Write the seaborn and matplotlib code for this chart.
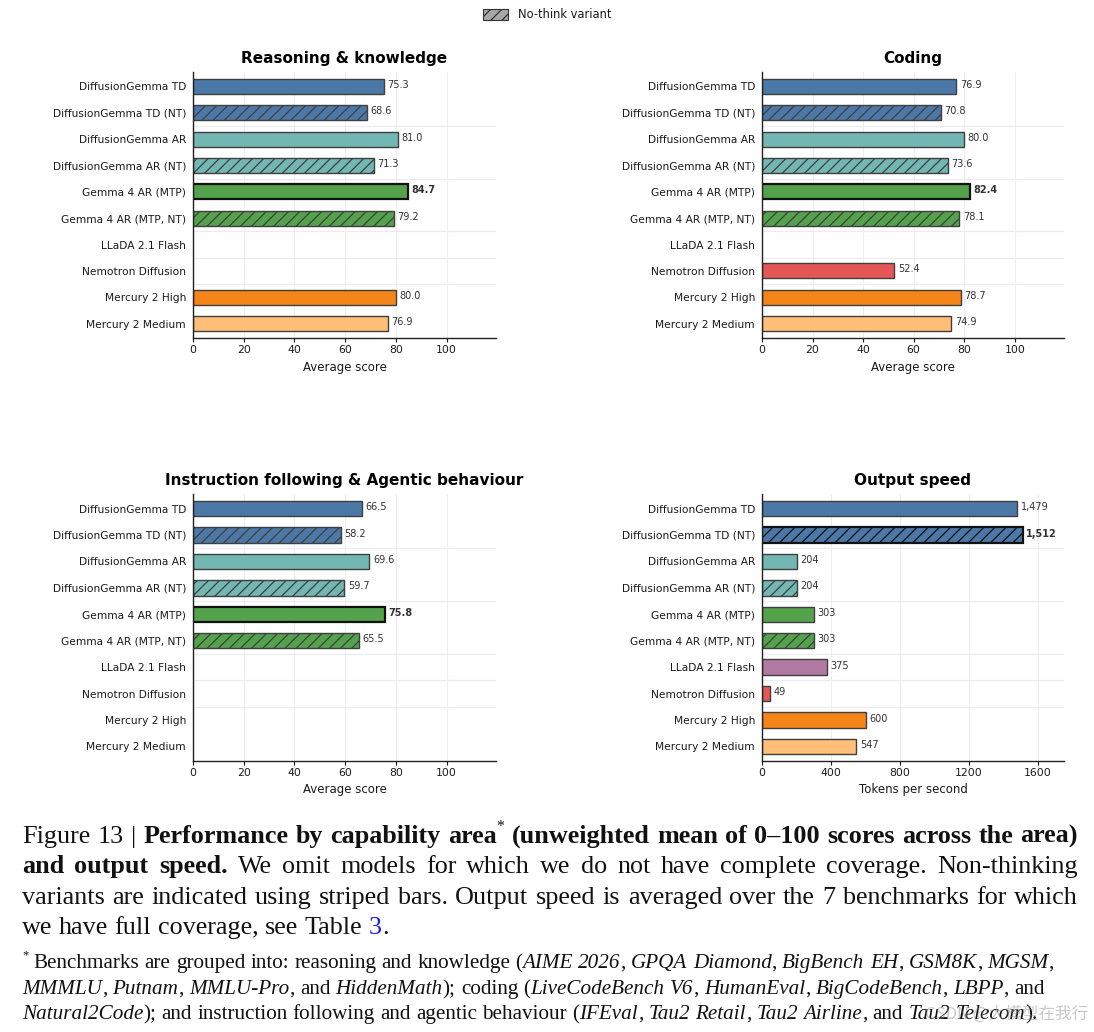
import numpy as np
import pandas as pd
import matplotlib
matplotlib.use("Agg")
import matplotlib.pyplot as plt
from matplotlib.patches import Patch
import seaborn as sns

# === Data ===
models = [
    "DiffusionGemma TD",
    "DiffusionGemma TD (NT)",
    "DiffusionGemma AR",
    "DiffusionGemma AR (NT)",
    "Gemma 4 AR (MTP)",
    "Gemma 4 AR (MTP, NT)",
    "LLaDA 2.1 Flash",
    "Nemotron Diffusion",
    "Mercury 2 High",
    "Mercury 2 Medium",
]
reasoning_scores = [75.3, 68.6, 81.0, 71.3, 84.7, 79.2, np.nan, np.nan, 80.0, 76.9]
coding_scores = [76.9, 70.8, 80.0, 73.6, 82.4, 78.1, np.nan, 52.4, 78.7, 74.9]
instruction_scores = [66.5, 58.2, 69.6, 59.7, 75.8, 65.5, np.nan, np.nan, np.nan, np.nan]
speed_tokens = [1479, 1512, 204, 204, 303, 303, 375, 49, 600, 547]

model_colors = ["#4c78a8", "#4c78a8", "#72b7b2", "#72b7b2", "#54a24b", "#54a24b",
                "#b279a2", "#e45756", "#f58518", "#ffbf79"]
group_breaks = [1.5, 3.5, 5.5, 6.5, 7.5]

# === Style ===
sns.set_style("white")
plt.rcParams["font.family"] = ["DejaVu Sans"]
plt.rcParams["hatch.linewidth"] = 0.9
for key in ["text.color", "axes.labelcolor", "xtick.color", "ytick.color"]:
    plt.rcParams[key] = "#1a1a1a"

W, H = 1094, 1032
fig = plt.figure(figsize=(W / 100, H / 100), dpi=100)


def add_axes_px(left, top, right, bottom):
    return fig.add_axes([left / W, 1 - bottom / H, (right - left) / W, (bottom - top) / H])


panels = [
    (reasoning_scores, "Reasoning & knowledge", "Average score", (193, 72, 496, 338), 119.5, range(0, 101, 20), "{:.1f}"),
    (coding_scores, "Coding", "Average score", (762, 72, 1064, 338), 119.5, range(0, 101, 20), "{:.1f}"),
    (instruction_scores, "Instruction following & Agentic behaviour", "Average score", (193, 494, 496, 761), 119.5, range(0, 101, 20), "{:.1f}"),
    (speed_tokens, "Output speed", "Tokens per second", (762, 494, 1064, 761), 1750, range(0, 1601, 400), "{:,.0f}"),
]

palette = dict(zip(models, model_colors))

for values, title, xlabel, box, xmax, ticks, fmt in panels:
    ax = add_axes_px(*box)
    df = pd.DataFrame({"model": models, "value": values}).dropna()
    sns.barplot(data=df, x="value", y="model", hue="model", order=models, hue_order=models,
                palette=palette, orient="h", width=0.58, saturation=1, legend=False, ax=ax)

    best = np.nanmax(np.array(values, dtype=float))
    for p in ax.patches:
        idx = int(round(p.get_y() + p.get_height() / 2))
        v = values[idx]
        is_best = v == best
        p.set_edgecolor("#111111" if is_best else "#3f3f3f")
        p.set_linewidth(1.6 if is_best else 1.0)
        if "NT" in models[idx]:
            p.set_hatch("///")
        ax.annotate(fmt.format(v), xy=(v, idx), xytext=(2.5, 1), textcoords="offset points",
                    va="center", ha="left", fontsize=7, color="#333333",
                    fontweight="bold" if is_best else "normal")

    for yb in group_breaks:
        ax.axhline(yb, color="#ececec", lw=0.9, zorder=0)
    ax.grid(axis="x", color="#eeeeee", lw=0.8)
    ax.set_axisbelow(True)

    ax.set_xlim(0, xmax)
    ax.set_ylim(9.55, -0.55)
    ax.set_xticks(list(ticks))
    ax.set_xlabel(xlabel, fontsize=8.5, labelpad=4)
    ax.set_ylabel("")
    ax.set_title(title, fontsize=11, fontweight="bold", pad=6.5, color="black")
    ax.tick_params(axis="y", length=0, labelsize=7.7, pad=5)
    ax.tick_params(axis="x", length=3, width=0.8, labelsize=7.8, pad=2, bottom=True)
    for side in ["top", "right"]:
        ax.spines[side].set_visible(False)
    for side in ["left", "bottom"]:
        ax.spines[side].set_color("#222222")
        ax.spines[side].set_linewidth(1.0)

fig.legend(handles=[Patch(facecolor="#a8a8a8", edgecolor="#333333", hatch="///", lw=0.8)],
           labels=["No-think variant"], loc="center", bbox_to_anchor=(0.5, 1 - 15 / H),
           frameon=False, fontsize=8.3, handlelength=2.2, handleheight=1.0)

# === Caption (justified serif text) ===
renderer = fig.canvas.get_renderer()
serif = "Liberation Serif"


def piece_props(style, size):
    props = dict(family=serif, fontsize=size, color="#111111")
    if style == "b":
        props["weight"] = "bold"
    elif style == "i":
        props["style"] = "italic"
    elif style == "sup":
        props["fontsize"] = size * 0.6
    elif style == "link":
        props["color"] = "#1a1aee"
    return props


def split_words(segments):
    words = [[]]
    for text, style in segments:
        for k, part in enumerate(text.split(" ")):
            if k > 0:
                words.append([])
            if part:
                words[-1].append((part, style))
    return [w for w in words if w]


def text_width(s, props):
    t = fig.text(0, 0, s, **props)
    w = t.get_window_extent(renderer=renderer).width
    t.remove()
    return w


def space_width(size):
    return text_width("a a", piece_props("n", size)) - 2 * text_width("a", piece_props("n", size))


def natural_width(segments, size):
    words = split_words(segments)
    total = sum(text_width(p, piece_props(st, size)) for w in words for p, st in w)
    return total + space_width(size) * (len(words) - 1)


def draw_line(segments, y_px, size, x0=22, x1=1078, justify=True):
    words = split_words(segments)
    widths = [[text_width(p, piece_props(st, size)) for p, st in w] for w in words]
    total = sum(sum(ws) for ws in widths)
    gap = (x1 - x0 - total) / (len(words) - 1) if justify and len(words) > 1 else space_width(size)
    x = x0
    for w, ws in zip(words, widths):
        for (p, st), pw in zip(w, ws):
            dy = size * 0.45 * 100 / 72 if st == "sup" else 0
            fig.text(x / W, 1 - (y_px - dy) / H, p, va="baseline", ha="left", **piece_props(st, size))
            x += pw
        x += gap


caption_lines = [
    [("Figure 13 | ", "n"), ("Performance by capability area", "b"), ("*", "sup"),
     (" (unweighted mean of 0–100 scores across the area)", "b")],
    [("and output speed.", "b"), (" We omit models for which we do not have complete coverage. Non-thinking", "n")],
    [("variants are indicated using striped bars. Output speed is averaged over the 7 benchmarks for which", "n")],
    [("we have full coverage, see Table ", "n"), ("3", "link"), (".", "n")],
]
caption_baselines = [843, 873, 904, 934]

footnote_lines = [
    [("*", "sup"), (" Benchmarks are grouped into: reasoning and knowledge (", "n"), ("AIME 2026", "i"), (", ", "n"),
     ("GPQA Diamond", "i"), (", ", "n"), ("BigBench EH", "i"), (", ", "n"), ("GSM8K", "i"), (", ", "n"),
     ("MGSM", "i"), (",", "n")],
    [("MMMLU", "i"), (", ", "n"), ("Putnam", "i"), (", ", "n"), ("MMLU-Pro", "i"), (", and ", "n"),
     ("HiddenMath", "i"), ("); coding (", "n"), ("LiveCodeBench V6", "i"), (", ", "n"), ("HumanEval", "i"),
     (", ", "n"), ("BigCodeBench", "i"), (", ", "n"), ("LBPP", "i"), (", and", "n")],
    [("Natural2Code", "i"), ("); and instruction following and agentic behaviour (", "n"), ("IFEval", "i"),
     (", ", "n"), ("Tau2 Retail", "i"), (", ", "n"), ("Tau2 Airline", "i"), (", and ", "n"),
     ("Tau2 Telecom", "i"), (").", "n")],
]
footnote_baselines = [968, 994, 1019]

cap_size = 10 * 1050 / max(natural_width(l, 10) for l in caption_lines[:3])
for k, (line, yb) in enumerate(zip(caption_lines, caption_baselines)):
    draw_line(line, yb, cap_size, justify=k < 3)

fn_size = 10 * 1030 / natural_width(footnote_lines[0], 10)
for line, yb in zip(footnote_lines, footnote_baselines):
    draw_line(line, yb, fn_size, justify=False)

fig.text(1088 / W, 1 - 1019 / H, "CSDN @大模型在我行", ha="right", va="baseline", fontsize=12,
         color="#888888", alpha=0.45, family=["Noto Sans CJK SC", "DejaVu Sans"])

fig.savefig("out.png", dpi=100)
